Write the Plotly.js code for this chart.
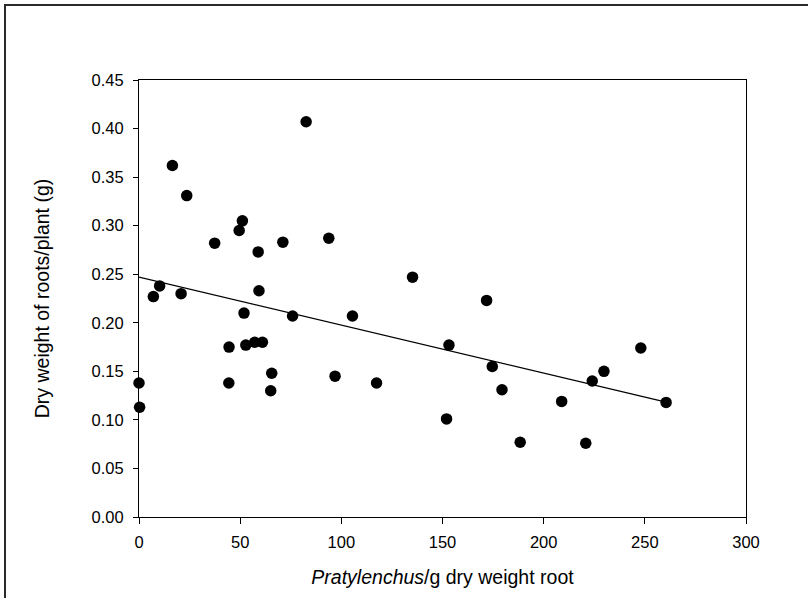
<!DOCTYPE html>
<html>
<head>
<meta charset="utf-8">
<script src="https://cdn.plot.ly/plotly-3.0.1.min.js"></script>
<style>
  html, body { margin: 0; padding: 0; background: #fff; overflow: hidden; }
  #wrap { position: relative; width: 808px; height: 598px; overflow: hidden; }
  #chart { position: absolute; left: 0; top: 0; width: 808px; height: 598px; }
  /* outer figure frame, open to the right and bottom */
  #frame { position: absolute; left: 4px; top: 4px; width: 1200px; height: 1200px;
           border: 2px solid #2a2a2a; pointer-events: none; }
</style>
</head>
<body>
<div id="wrap">
  <div id="chart"></div>
  <div id="frame"></div>
</div>
<script>
// Nematode density (Pratylenchus per g dry root) vs dry root weight per plant (g)
const nematodesPerGram = [
  0, 0.3, 7.1, 10.2, 16.5, 20.8, 23.6, 37.4, 44.4, 44.5,
  49.5, 51.1, 51.9, 52.8, 57.2, 58.9, 59.3, 61.0, 65.1, 65.6,
  71.1, 75.9, 82.6, 93.8, 96.9, 105.5, 117.4, 135.2, 152.0, 153.2,
  171.8, 174.6, 179.4, 188.4, 208.9, 220.8, 224.0, 229.8, 248.0, 260.5
];
const rootDryWeight = [
  0.138, 0.113, 0.227, 0.238, 0.362, 0.230, 0.331, 0.282, 0.138, 0.175,
  0.295, 0.305, 0.210, 0.177, 0.180, 0.273, 0.233, 0.180, 0.130, 0.148,
  0.283, 0.207, 0.407, 0.287, 0.145, 0.207, 0.138, 0.247, 0.101, 0.177,
  0.223, 0.155, 0.131, 0.077, 0.119, 0.076, 0.140, 0.150, 0.174, 0.118
];

// Linear fit: weight = intercept + slope * nematodes
const fitIntercept = 0.247;
const fitSlope = -0.000494;

const xTickVals = [0, 50, 100, 150, 200, 250, 300];
const yTickVals = [0, 0.05, 0.10, 0.15, 0.20, 0.25, 0.30, 0.35, 0.40, 0.45];

const fitX = [0, Math.max(...nematodesPerGram)];
const fitY = fitX.map(v => fitIntercept + fitSlope * v);

const FONT = '"Liberation Sans", Arial, sans-serif';

const traces = [
  {
    type: 'scatter', mode: 'lines',
    x: fitX, y: fitY,
    line: { color: '#000', width: 1.3 },
    hoverinfo: 'skip', showlegend: false
  },
  {
    type: 'scatter', mode: 'markers',
    x: nematodesPerGram, y: rootDryWeight,
    marker: { color: '#000', size: 11.5, line: { width: 0 } },
    cliponaxis: false, showlegend: false
  }
];

const axisCommon = {
  showgrid: false, zeroline: false,
  showline: true, linecolor: '#000', linewidth: 1,
  mirror: true, ticks: 'outside', ticklen: 6, tickwidth: 1, tickcolor: '#000',
  tickfont: { family: FONT, size: 16.5, color: '#000' },
  layer: 'below traces'
};

const layout = {
  width: 808, height: 598,
  margin: { l: 139, r: 62, t: 80, b: 81, pad: 0 },
  paper_bgcolor: '#fff', plot_bgcolor: '#fff',
  showlegend: false,
  xaxis: Object.assign({}, axisCommon, {
    range: [0, 300], tickvals: xTickVals,
    ticktext: xTickVals.map(v => String(v)),
    ticklabelstandoff: 4,
    title: { text: '<i>Pratylenchus</i>/g dry weight root',
             font: { family: FONT, size: 19.5, color: '#000' }, standoff: 20 }
  }),
  yaxis: Object.assign({}, axisCommon, {
    range: [0, 0.45], tickvals: yTickVals,
    ticktext: yTickVals.map(v => v.toFixed(2)),
    ticklen: 5,
    ticklabelstandoff: 6,
    title: { text: 'Dry weight of roots/plant (g)',
             font: { family: FONT, size: 19.5, color: '#000' }, standoff: 36 }
  })
};

Plotly.newPlot('chart', traces, layout, { staticPlot: true, displayModeBar: false });
</script>
</body>
</html>
